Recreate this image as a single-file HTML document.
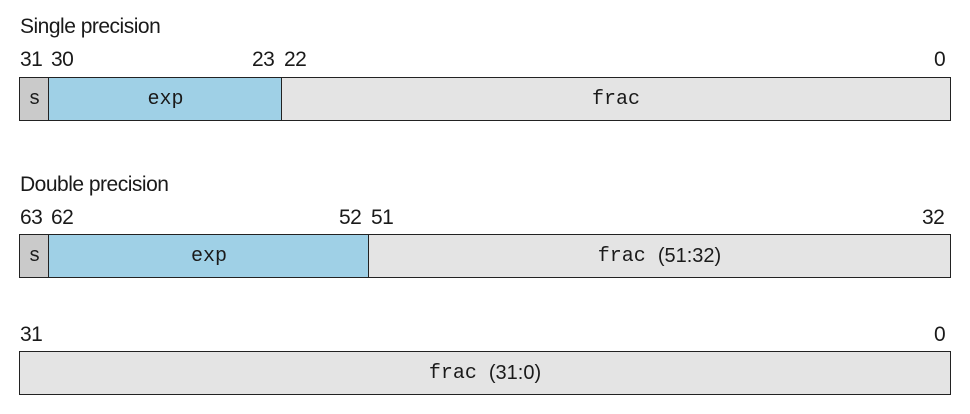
<!DOCTYPE html>
<html><head><meta charset="utf-8"><style>
body{margin:0;width:970px;height:414px;background:#fff;position:relative;overflow:hidden;font-family:"Liberation Sans",sans-serif;color:#1a1a1a}
.t{position:absolute;font-size:21px;line-height:20px;white-space:nowrap;letter-spacing:-0.5px}
.b{position:absolute;box-sizing:border-box;border:1.5px solid #222;display:flex;align-items:center;justify-content:center;font-family:"Liberation Mono",monospace;font-size:20px}
.s{background:#cacaca}.e{background:#9fd0e6}.f{background:#e4e4e4}
.sans{font-family:"Liberation Sans",sans-serif;font-size:20px}
</style></head><body>
<div class="t" style="left:20px;top:17px">Single precision</div>
<div class="t" style="left:20px;top:50px">31</div>
<div class="t" style="left:51px;top:50px">30</div>
<div class="t" style="left:252px;top:50px">23</div>
<div class="t" style="left:284px;top:50px">22</div>
<div class="t" style="left:934px;top:50px">0</div>
<div class="b s" style="left:19px;top:77px;width:31px;height:44px">s</div>
<div class="b e" style="left:48px;top:77px;width:235px;height:44px">exp</div>
<div class="b f" style="left:281px;top:77px;width:670px;height:44px">frac</div>

<div class="t" style="left:20px;top:175px">Double precision</div>
<div class="t" style="left:20px;top:208px">63</div>
<div class="t" style="left:51px;top:208px">62</div>
<div class="t" style="left:339px;top:208px">52</div>
<div class="t" style="left:371px;top:208px">51</div>
<div class="t" style="left:922px;top:208px">32</div>
<div class="b s" style="left:19px;top:234px;width:31px;height:44px">s</div>
<div class="b e" style="left:48px;top:234px;width:322px;height:44px">exp</div>
<div class="b f" style="left:368px;top:234px;width:583px;height:44px">frac&nbsp;<span class="sans">(51:32)</span></div>

<div class="t" style="left:20px;top:325px">31</div>
<div class="t" style="left:934px;top:325px">0</div>
<div class="b f" style="left:19px;top:351px;width:932px;height:44px">frac&nbsp;<span class="sans">(31:0)</span></div>
</body></html>
